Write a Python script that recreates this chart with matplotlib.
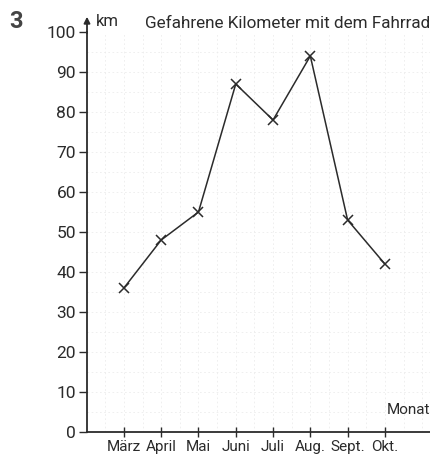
import matplotlib
matplotlib.use("Agg")
import matplotlib.pyplot as plt
import numpy as np

plt.rcParams['font.family'] = ['Roboto', 'DejaVu Sans']

months = ["März", "April", "Mai", "Juni", "Juli", "Aug.", "Sept.", "Okt."]
km = [36, 48, 55, 87, 78, 94, 53, 42]
y_ticks = [0, 10, 20, 30, 40, 50, 60, 70, 80, 90, 100]
title = "Gefahrene Kilometer mit dem Fahrrad"

ink = "#2b2b2b"
fig = plt.figure(figsize=(4.3, 4.55), dpi=100)
ax = fig.add_axes([87/430, 1 - 432/455, (430 - 87)/430, (432 - 32)/455])

x = np.arange(len(months))
ax.plot(x, km, color=ink, linewidth=1.1, marker='x', markersize=7,
        markeredgewidth=1.1, markeredgecolor=ink, zorder=3)

ax.set_xlim(-0.99, 8.21)
ax.set_ylim(0, 100)

# faint background grid (scanned grid paper)
for gy in np.arange(5, 100, 5):
    ax.axhline(gy, color="#ececec", linewidth=0.6, linestyle=(0, (2, 3)), zorder=0)
for gx in np.arange(-0.5, 8.2, 0.5):
    ax.axvline(gx, color="#ececec", linewidth=0.6, linestyle=(0, (2, 3)), zorder=0)

for s in ["top", "right"]:
    ax.spines[s].set_visible(False)
for s in ["left", "bottom"]:
    ax.spines[s].set_color(ink)
    ax.spines[s].set_linewidth(1.3)

ax.set_yticks(y_ticks)
ax.set_yticklabels([str(v) for v in y_ticks])
ax.set_xticks(x)
ax.set_xticklabels(months)
ax.tick_params(axis='y', direction='out', length=6, width=1, colors=ink,
               labelsize=12.5, pad=2)
ax.tick_params(axis='x', direction='inout', length=7, width=1, colors=ink,
               labelsize=11, pad=2)

# arrow on y-axis
ax.annotate("", xy=(0, 1.045), xycoords='axes fraction',
            xytext=(0, 0.99), textcoords='axes fraction',
            arrowprops=dict(arrowstyle='-|>', color=ink, lw=1.3,
                            mutation_scale=9), annotation_clip=False)

fig.text(96/430, 1 - 22/455, "km", fontsize=12, color=ink, va='center', ha='left')
fig.text(145/430, 1 - 23/455, title, fontsize=12.3, color=ink, va='center', ha='left')
fig.text(9/430, 1 - 22/455, "3", fontsize=17, fontweight='bold', color="#444444",
         va='center', ha='left')
ax.text(1.0, 0.055, "Monat", transform=ax.transAxes, fontsize=11, color=ink,
        ha='right', va='center')

fig.savefig("out.png", dpi=100, facecolor='white')
